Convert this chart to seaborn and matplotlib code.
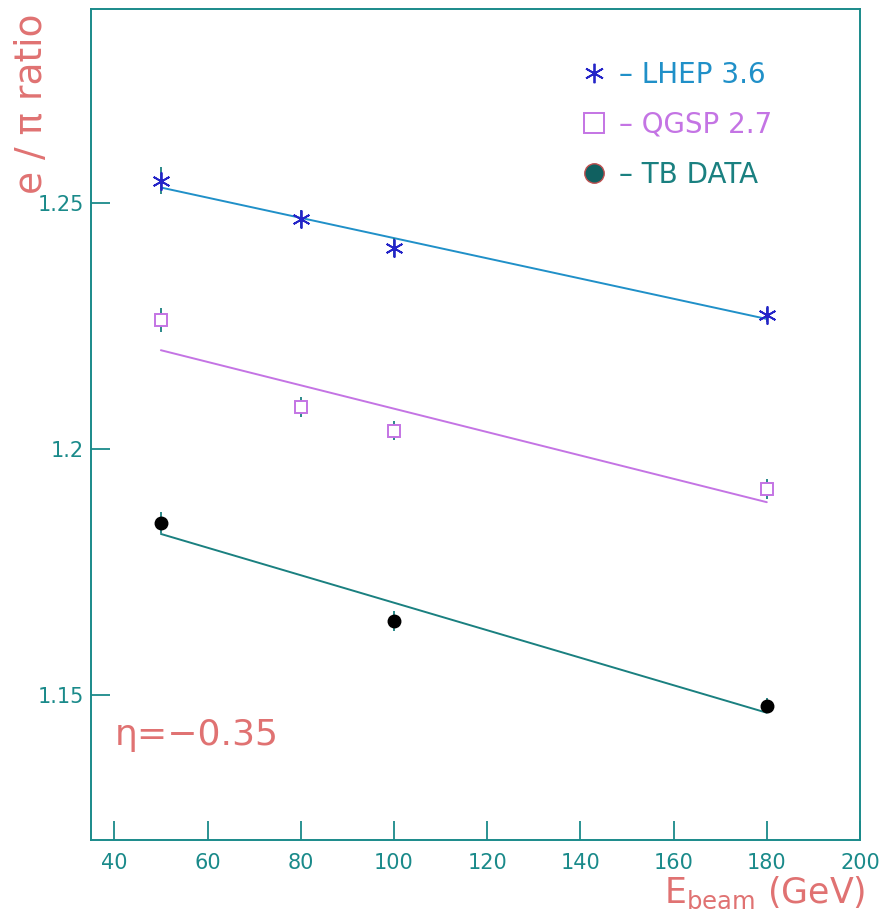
"""
e/pi ratio vs beam energy - LHEP 3.6, QGSP 2.7 and test beam data
"""

import pandas as pd
import matplotlib
matplotlib.use('Agg')
import matplotlib.pyplot as plt
from matplotlib.lines import Line2D
import seaborn as sns

sns.set_style("white")
plt.rcParams['font.family'] = ['DejaVu Sans']
plt.rcParams['mathtext.default'] = 'regular'

# Data
lhep_energy = [50, 80, 100, 180]
lhep_ratio = [1.2545, 1.2467, 1.2409, 1.2272]
lhep_err = [0.0028, 0.0018, 0.0020, 0.0015]

qgsp_energy = [50, 80, 100, 180]
qgsp_ratio = [1.2262, 1.2085, 1.2037, 1.1919]
qgsp_err = [0.0025, 0.0020, 0.0020, 0.0020]

tb_energy = [50, 100, 180]
tb_ratio = [1.1850, 1.1650, 1.1478]
tb_err = [0.0022, 0.0020, 0.0015]

x_ticks = [40, 60, 80, 100, 120, 140, 160, 180, 200]
y_ticks = [1.15, 1.2, 1.25]
y_tick_labels = ['1.15', '1.2', '1.25']

lhep = pd.DataFrame({'energy': lhep_energy, 'ratio': lhep_ratio})
qgsp = pd.DataFrame({'energy': qgsp_energy, 'ratio': qgsp_ratio})
tb = pd.DataFrame({'energy': tb_energy, 'ratio': tb_ratio})

frame_col = '#1a8a8a'
text_col = '#e07272'
lhep_line = '#2090c8'
lhep_mark = '#2424c8'
qgsp_col = '#c474e4'
tb_line = '#1a8080'

fig = plt.figure(figsize=(8.83, 9.22), dpi=100)
ax = fig.add_axes([91 / 883, 82 / 922, 769 / 883, 831 / 922])

# linear fits
sns.regplot(data=lhep, x='energy', y='ratio', ax=ax, ci=None, scatter=False,
            line_kws={'color': lhep_line, 'lw': 1.4})
sns.regplot(data=qgsp, x='energy', y='ratio', ax=ax, ci=None, scatter=False,
            line_kws={'color': qgsp_col, 'lw': 1.4})
sns.regplot(data=tb, x='energy', y='ratio', ax=ax, ci=None, scatter=False,
            line_kws={'color': tb_line, 'lw': 1.4})

# points with error bars
ax.errorbar(lhep_energy, lhep_ratio, yerr=lhep_err, fmt='none', ecolor=tb_line,
            elinewidth=1.3, capsize=0)
ax.plot(lhep_energy, lhep_ratio, ls='none', marker=(6, 2, 0), ms=13,
        mec=lhep_mark, mew=1.3)
ax.errorbar(qgsp_energy, qgsp_ratio, yerr=qgsp_err, fmt='none', ecolor=tb_line,
            elinewidth=1.3, capsize=0)
ax.plot(qgsp_energy, qgsp_ratio, ls='none', marker='s', ms=9,
        mfc='white', mec=qgsp_col, mew=1.4)
ax.errorbar(tb_energy, tb_ratio, yerr=tb_err, fmt='none', ecolor=tb_line,
            elinewidth=1.3, capsize=0)
ax.plot(tb_energy, tb_ratio, ls='none', marker='o', ms=9, mfc='black', mec='black')

ax.set_xlim(35, 200)
ax.set_ylim(1.1205, 1.2894)
ax.set_xticks(x_ticks)
ax.set_yticks(y_ticks)
ax.set_yticklabels(y_tick_labels)
ax.set_xlabel('')
ax.set_ylabel('')
ax.tick_params(direction='in', length=14, width=1.3, color=frame_col,
               labelcolor=frame_col, labelsize=15, bottom=True, left=True)
ax.tick_params(axis='x', pad=9)
ax.tick_params(axis='y', pad=5)
for s in ax.spines.values():
    s.set_color(frame_col)
    s.set_linewidth(1.4)

# legend
handles = [
    Line2D([], [], ls='none', marker=(6, 2, 0), ms=14, mec=lhep_mark, mew=1.3),
    Line2D([], [], ls='none', marker='s', ms=14, mfc='white', mec=qgsp_col, mew=1.4),
    Line2D([], [], ls='none', marker='o', ms=14, mfc='#106060', mec='#c05050'),
]
labels = ['\u2013 LHEP 3.6', '\u2013 QGSP 2.7', '\u2013 TB DATA']
ax.legend(handles, labels, loc='upper left', bbox_to_anchor=(0.603, 0.968),
          frameon=False, fontsize=20, labelspacing=0.8, handlelength=1.0,
          handletextpad=0.4, labelcolor=[lhep_line, qgsp_col, tb_line])

ax.text(40, 1.1419, '\u03b7=\u22120.35', fontsize=26, color=text_col, va='center')

fig.text(32 / 883, 1 - 14 / 922, 'e / \u03c0 ratio', rotation=90, ha='center', va='top',
         fontsize=27, color=text_col)
fig.text(866 / 883, 1 - 893 / 922, r'E$_{beam}$ (GeV)', ha='right', va='center',
         fontsize=25, color=text_col)

plt.savefig('out.png', dpi=100)
print("[OK] out.png")
